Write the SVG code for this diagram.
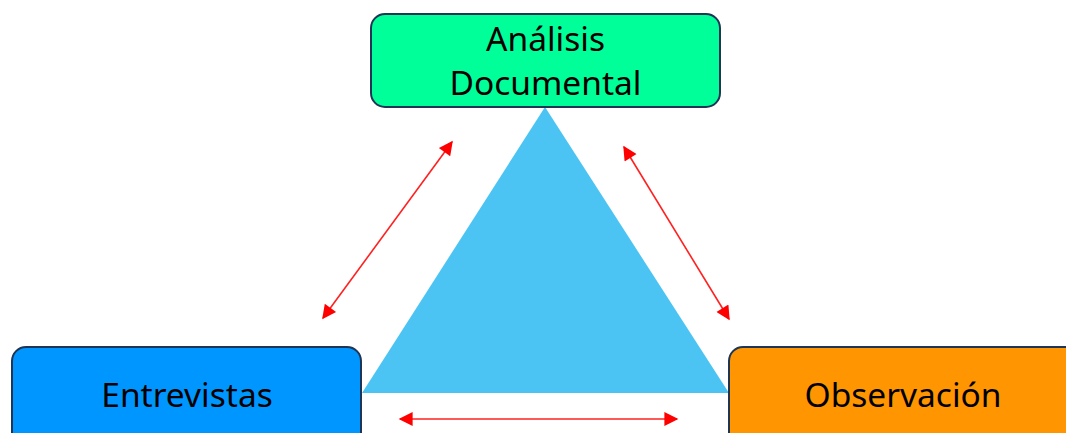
<svg xmlns="http://www.w3.org/2000/svg" width="1066" height="433" viewBox="0 0 1066 433">
<style>
.box{stroke:#1E3555;stroke-width:2}
.lbl{font-family:"Noto Sans",Lato,sans-serif;font-size:33.5px;fill:#000;text-anchor:middle}
.arr{stroke:#FF2020;stroke-width:1.6;fill:none;marker-start:url(#ah);marker-end:url(#ah)}
</style>
<defs>
<marker id="ah" viewBox="0 0 10 10" refX="9" refY="5" markerUnits="userSpaceOnUse" markerWidth="17" markerHeight="14" orient="auto-start-reverse">
<path d="M0,0 L10,5 L0,10 Z" fill="#FF0000"/>
</marker>
</defs>
<rect width="1066" height="433" fill="#fff"/>
<polygon id="triangle" points="545,107 362,393 729,393" fill="#4BC4F4"/>
<g id="node-analisis">
<rect class="box" x="371" y="14" width="349" height="93" rx="14" fill="#00FF99"/>
<text class="lbl" x="545.5" y="51">Análisis</text>
<text class="lbl" x="545.5" y="95">Documental</text>
</g>
<g id="node-entrevistas">
<rect class="box" x="12" y="347" width="349" height="110" rx="14" fill="#0096FF"/>
<text class="lbl" x="187" y="407">Entrevistas</text>
</g>
<g id="node-observacion">
<rect class="box" x="729" y="347" width="360" height="110" rx="14" fill="#FF9500"/>
<text class="lbl" x="903" y="407">Observación</text>
</g>
<g id="connectors">
<line class="arr" x1="323" y1="318" x2="452" y2="142"/>
<line class="arr" x1="624" y1="147" x2="729" y2="319"/>
<line class="arr" x1="400" y1="419" x2="677" y2="419"/>
</g>
</svg>
